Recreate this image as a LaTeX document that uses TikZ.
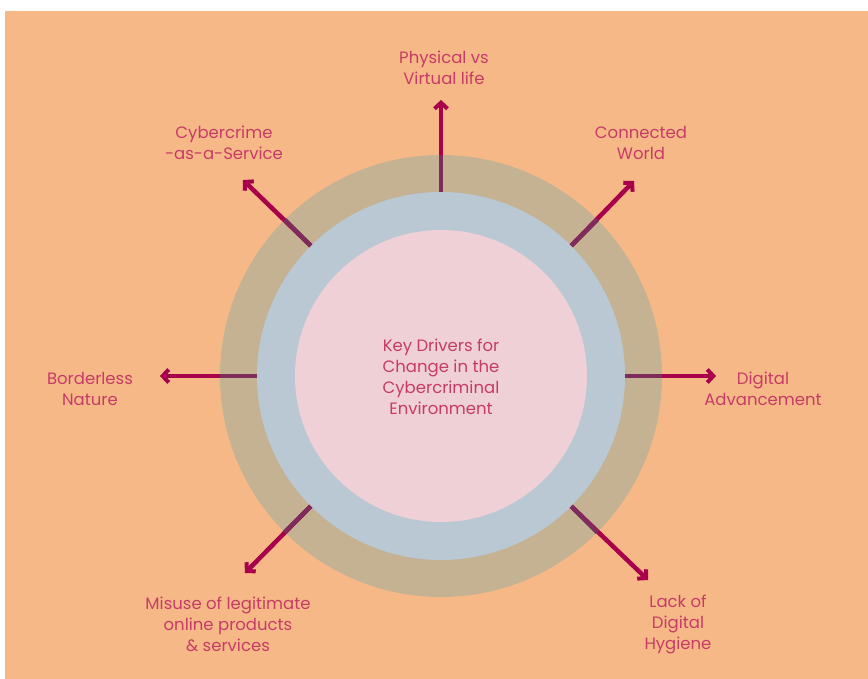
\documentclass[tikz,border=0pt]{standalone}
\usepackage{fontspec}
\setmainfont{Poppins}
\usetikzlibrary{arrows.meta}
\definecolor{bgorange}{HTML}{F7B887}
\definecolor{ringtan}{HTML}{C4B293}
\definecolor{ringblue}{HTML}{B9C8D2}
\definecolor{corepink}{HTML}{EFD0D6}
\definecolor{arrowred}{HTML}{A8004A}
\definecolor{arrowdim}{HTML}{7E2C5C}
\definecolor{labelred}{HTML}{C63C66}
\tikzset{
  disc/.style={circle, inner sep=0pt, draw=none},
  lbl/.style={align=center, text=labelred, inner sep=0pt,
    font=\fontsize{16.5}{21}\selectfont},
  driver/.style={draw=arrowred, line width=4.5pt,
    -{Straight Barb[length=6pt, width=13pt, line width=4pt]}},
  shaded/.style={draw=arrowdim, line width=4.5pt}
}
\begin{document}
\begin{tikzpicture}[x=1pt, y=-1pt]
  \useasboundingbox (0,0) rectangle (868,679);
  \fill[white] (0,0) rectangle (868,679);
  \fill[bgorange] (5,11) rectangle (868,679);

  % concentric discs
  \node[disc, fill=ringtan, minimum size=442pt] (ring) at (441,376) {};
  \node[disc, fill=ringblue, minimum size=368pt] (blue) at (441,376) {};
  \node[disc, fill=corepink, minimum size=292pt] (core) at (441,376) {};

  \node[lbl] (title) at (441,376.5) {Key Drivers for\\Change in the\\Cybercriminal\\Environment};

  % arrow tips
  \coordinate (tN)  at (441,100);
  \coordinate (tNE) at (634,181);
  \coordinate (tE)  at (716,376);
  \coordinate (tSE) at (648,580);
  \coordinate (tSW) at (245,573);
  \coordinate (tW)  at (160,376);
  \coordinate (tNW) at (243,180);

  % drivers radiating outwards
  \foreach \a/\t in {90/tN, 45/tNE, 0/tE, -45/tSE, -135/tSW, 180/tW, 135/tNW} {
    \draw[driver] (blue.\a) -- (\t);
    \draw[shaded] (blue.\a) -- (ring.\a);
  }

  % labels
  \node[lbl] (lN)  at (444,68)  {Physical vs\\Virtual life};
  \node[lbl] (lNW) at (224,143) {Cybercrime\\-as-a-Service};
  \node[lbl] (lNE) at (641,143) {Connected\\World};
  \node[lbl] (lW)  at (90,389)  {Borderless\\Nature};
  \node[lbl] (lE)  at (763,389) {Digital\\Advancement};
  \node[lbl] (lSW) at (228,624) {Misuse of legitimate\\online products\\\& services};
  \node[lbl] (lSE) at (678,624) {Lack of\\Digital\\Hygiene};
\end{tikzpicture}
\end{document}
